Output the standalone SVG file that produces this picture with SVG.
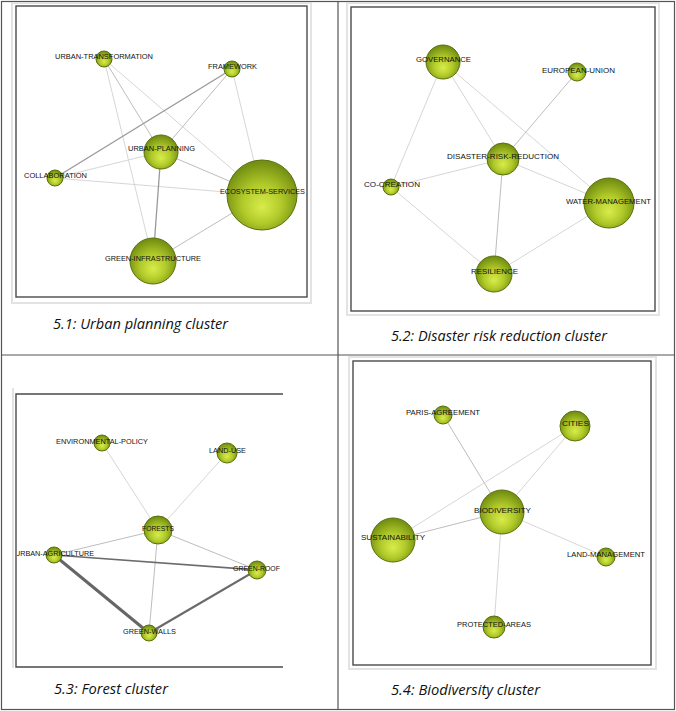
<svg xmlns="http://www.w3.org/2000/svg" width="676" height="711" viewBox="0 0 676 711">
<defs>
<radialGradient id="ball" cx="50%" cy="58%" r="55%" fx="50%" fy="68%">
<stop offset="0" stop-color="#d8ec4c"/>
<stop offset="0.5" stop-color="#b2cb2a"/>
<stop offset="1" stop-color="#748f12"/>
</radialGradient>
<clipPath id="clip3"><rect x="17" y="395" width="270" height="272"/></clipPath>
<style>
.node{fill:url(#ball);stroke:#58700c;stroke-width:1}
.lbl{font-family:"Liberation Sans",Arial,sans-serif;font-size:7.2px;fill:#111}
.cap{font-family:"Open Sans","Liberation Sans",sans-serif;font-style:italic;font-size:14px;fill:#111}
.frame{fill:none;stroke:#4a4a4a;stroke-width:1.4}
.shadow{fill:none;stroke:#e3e3e3;stroke-width:2}
.e1{stroke:#d6d6d6;stroke-width:1;fill:none}
.e2{stroke:#bdbdbd;stroke-width:1;fill:none}
.e3{stroke:#999;stroke-width:1.3;fill:none}
.e4{stroke:#6c6c6c;stroke-width:1.6;fill:none}
.e5{stroke:#666;stroke-width:3;fill:none}
.e6{stroke:#6a6a6a;stroke-width:2.2;fill:none}
</style>
</defs>
<rect width="676" height="711" fill="#fff"/>
<g id="table" fill="none" stroke="#555" stroke-width="1.2">
<rect x="1.5" y="1.5" width="673" height="708"/>
<line x1="338" y1="1.5" x2="338" y2="709.5"/>
<line x1="1.5" y1="355" x2="674.5" y2="355"/>
</g>
<g id="frames">
<rect class="shadow" x="12" y="3" width="299" height="300"/>
<rect class="frame" x="16" y="6" width="291" height="291"/>
<rect class="shadow" x="347" y="3" width="312" height="312"/>
<rect class="frame" x="351" y="7" width="304" height="304"/>
<line x1="13" y1="388" x2="13" y2="668" stroke="#e3e3e3" stroke-width="2"/>
<polyline class="frame" points="283,394 16,394 16,667 283,667"/>
<rect class="shadow" x="349" y="357" width="307" height="312"/>
<rect class="frame" x="353" y="361" width="298" height="304"/>
</g>
<g id="connectors">
<line class="e2" x1="104" y1="59" x2="161" y2="152"/>
<line class="e1" x1="104" y1="59" x2="153" y2="261"/>
<line class="e1" x1="104" y1="59" x2="262" y2="195"/>
<line class="e3" x1="232" y1="69" x2="55" y2="178"/>
<line class="e2" x1="232" y1="69" x2="161" y2="152"/>
<line class="e1" x1="232" y1="69" x2="262" y2="195"/>
<line class="e1" x1="55" y1="178" x2="161" y2="152"/>
<line class="e1" x1="55" y1="178" x2="262" y2="195"/>
<line class="e3" x1="161" y1="152" x2="153" y2="261"/>
<line class="e2" x1="161" y1="152" x2="262" y2="195"/>
<line class="e2" x1="153" y1="261" x2="262" y2="195"/>

<line class="e1" x1="443" y1="62" x2="391" y2="187"/>
<line class="e1" x1="443" y1="62" x2="503" y2="159"/>
<line class="e1" x1="443" y1="62" x2="609" y2="203"/>
<line class="e2" x1="577" y1="72" x2="503" y2="159"/>
<line class="e1" x1="503" y1="159" x2="391" y2="187"/>
<line class="e1" x1="503" y1="159" x2="609" y2="203"/>
<line class="e2" x1="503" y1="159" x2="494" y2="274"/>
<line class="e1" x1="391" y1="187" x2="494" y2="274"/>
<line class="e1" x1="494" y1="274" x2="609" y2="203"/>

<line class="e1" x1="102" y1="443" x2="158" y2="530"/>
<line class="e1" x1="227" y1="453" x2="158" y2="530"/>
<line class="e2" x1="158" y1="530" x2="54" y2="555"/>
<line class="e2" x1="158" y1="530" x2="257" y2="570"/>
<line class="e2" x1="158" y1="530" x2="149" y2="633"/>
<line class="e4" x1="54" y1="555" x2="257" y2="570"/>
<line class="e5" x1="54" y1="555" x2="149" y2="633"/>
<line class="e6" x1="149" y1="633" x2="257" y2="570"/>

<line class="e2" x1="443" y1="415" x2="502" y2="512"/>
<line class="e1" x1="575" y1="426" x2="502" y2="512"/>
<line class="e1" x1="575" y1="426" x2="393" y2="540"/>
<line class="e2" x1="393" y1="540" x2="502" y2="512"/>
<line class="e1" x1="502" y1="512" x2="606" y2="557"/>
<line class="e1" x1="502" y1="512" x2="494" y2="627"/>
</g>

<g id="n-urban-transformation"><circle class="node" cx="104" cy="59" r="8"/><text class="lbl" x="55" y="58.5" textLength="98" lengthAdjust="spacingAndGlyphs">URBAN-TRANSFORMATION</text></g>
<g id="n-framework"><circle class="node" cx="232" cy="69" r="8"/><text class="lbl" x="208" y="68.5" textLength="49" lengthAdjust="spacingAndGlyphs">FRAMEWORK</text></g>
<g id="n-urban-planning"><circle class="node" cx="161" cy="152" r="17"/><text class="lbl" x="128" y="150.5" textLength="67" lengthAdjust="spacingAndGlyphs">URBAN-PLANNING</text></g>
<g id="n-collaboration"><circle class="node" cx="55" cy="178" r="8"/><text class="lbl" x="24" y="177.5" textLength="63" lengthAdjust="spacingAndGlyphs">COLLABORATION</text></g>
<g id="n-ecosystem-services"><circle class="node" cx="262" cy="195" r="35"/><text class="lbl" x="220" y="193.5" textLength="85" lengthAdjust="spacingAndGlyphs">ECOSYSTEM-SERVICES</text></g>
<g id="n-green-infrastructure"><circle class="node" cx="153" cy="261" r="23"/><text class="lbl" x="105" y="260.5" textLength="96" lengthAdjust="spacingAndGlyphs">GREEN-INFRASTRUCTURE</text></g>
<text class="cap" x="53" y="329" textLength="175" lengthAdjust="spacingAndGlyphs">5.1: Urban planning cluster</text>

<g id="n-governance"><circle class="node" cx="443" cy="62" r="17"/><text class="lbl" x="416" y="61.5" textLength="55" lengthAdjust="spacingAndGlyphs">GOVERNANCE</text></g>
<g id="n-european-union"><circle class="node" cx="577" cy="72" r="9"/><text class="lbl" x="542" y="72.5" textLength="73" lengthAdjust="spacingAndGlyphs">EUROPEAN-UNION</text></g>
<g id="n-disaster-risk-reduction"><circle class="node" cx="503" cy="159" r="16"/><text class="lbl" x="447" y="158.5" textLength="112" lengthAdjust="spacingAndGlyphs">DISASTER-RISK-REDUCTION</text></g>
<g id="n-co-creation"><circle class="node" cx="391" cy="187" r="8"/><text class="lbl" x="364" y="186.5" textLength="56" lengthAdjust="spacingAndGlyphs">CO-CREATION</text></g>
<g id="n-water-management"><circle class="node" cx="609" cy="203" r="25"/><text class="lbl" x="566" y="203.5" textLength="85" lengthAdjust="spacingAndGlyphs">WATER-MANAGEMENT</text></g>
<g id="n-resilience"><circle class="node" cx="494" cy="274" r="18"/><text class="lbl" x="471" y="273.5" textLength="47" lengthAdjust="spacingAndGlyphs">RESILIENCE</text></g>
<text class="cap" x="391" y="341" textLength="216" lengthAdjust="spacingAndGlyphs">5.2: Disaster risk reduction cluster</text>

<g id="n-environmental-policy"><circle class="node" cx="102" cy="443" r="8"/><text class="lbl" x="56" y="443.5" textLength="92" lengthAdjust="spacingAndGlyphs">ENVIRONMENTAL-POLICY</text></g>
<g id="n-land-use"><circle class="node" cx="227" cy="453" r="10"/><text class="lbl" x="209" y="452.5" textLength="37" lengthAdjust="spacingAndGlyphs">LAND-USE</text></g>
<g id="n-forests"><circle class="node" cx="158" cy="530" r="14"/><text class="lbl" x="142" y="530.5" textLength="32" lengthAdjust="spacingAndGlyphs">FORESTS</text></g>
<g id="n-urban-agriculture"><circle class="node" cx="54" cy="555" r="8"/><text class="lbl" x="15" y="555.5" textLength="79" lengthAdjust="spacingAndGlyphs" clip-path="url(#clip3)">URBAN-AGRICULTURE</text></g>
<g id="n-green-roof"><circle class="node" cx="257" cy="570" r="9"/><text class="lbl" x="233" y="570.5" textLength="47" lengthAdjust="spacingAndGlyphs">GREEN-ROOF</text></g>
<g id="n-green-walls"><circle class="node" cx="149" cy="633" r="8"/><text class="lbl" x="123" y="633.5" textLength="53" lengthAdjust="spacingAndGlyphs">GREEN-WALLS</text></g>
<text class="cap" x="54" y="694" textLength="114" lengthAdjust="spacingAndGlyphs">5.3: Forest cluster</text>

<g id="n-paris-agreement"><circle class="node" cx="443" cy="415" r="9"/><text class="lbl" x="406" y="414.5" textLength="74" lengthAdjust="spacingAndGlyphs">PARIS-AGREEMENT</text></g>
<g id="n-cities"><circle class="node" cx="575" cy="426" r="15"/><text class="lbl" x="562" y="425.5" textLength="27" lengthAdjust="spacingAndGlyphs">CITIES</text></g>
<g id="n-biodiversity"><circle class="node" cx="502" cy="512" r="22"/><text class="lbl" x="474" y="512.5" textLength="57" lengthAdjust="spacingAndGlyphs">BIODIVERSITY</text></g>
<g id="n-sustainability"><circle class="node" cx="393" cy="540" r="22"/><text class="lbl" x="361" y="539.5" textLength="64" lengthAdjust="spacingAndGlyphs">SUSTAINABILITY</text></g>
<g id="n-land-management"><circle class="node" cx="606" cy="557" r="9"/><text class="lbl" x="567" y="556.5" textLength="78" lengthAdjust="spacingAndGlyphs">LAND-MANAGEMENT</text></g>
<g id="n-protected-areas"><circle class="node" cx="494" cy="627" r="11"/><text class="lbl" x="457" y="626.5" textLength="74" lengthAdjust="spacingAndGlyphs">PROTECTED-AREAS</text></g>
<text class="cap" x="391" y="695" textLength="149" lengthAdjust="spacingAndGlyphs">5.4: Biodiversity cluster</text>
</svg>
